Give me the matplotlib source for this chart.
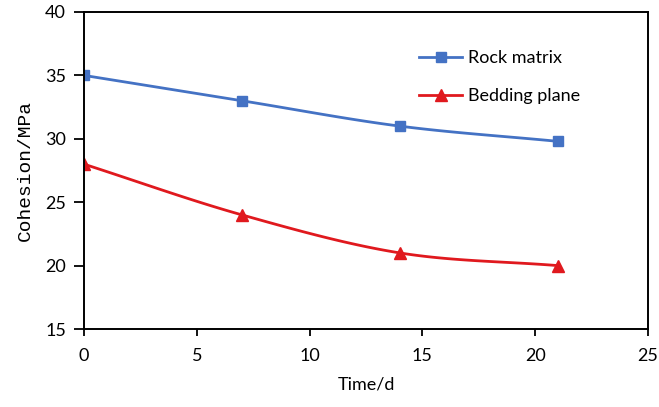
import numpy as np
import matplotlib
matplotlib.use("Agg")
import matplotlib.pyplot as plt
from matplotlib.lines import Line2D

time_d = [0, 7, 14, 21]
rock_matrix = [35, 33, 31, 29.8]
bedding_plane = [28, 24, 21, 20]
series_names = ["Rock matrix", "Bedding plane"]

def smooth(x, y, n=40, t=0.5):
    x = np.asarray(x, float); y = np.asarray(y, float)
    P = np.column_stack([x, y])
    P = np.vstack([P[0] - (P[1] - P[0]), P, P[-1] + (P[-1] - P[-2])])
    out = []
    for i in range(1, len(P) - 2):
        p0, p1, p2, p3 = P[i-1], P[i], P[i+1], P[i+2]
        c1 = p1 + (p2 - p0) * t / 3
        c2 = p2 - (p3 - p1) * t / 3
        s = np.linspace(0, 1, n)[:, None]
        seg = (1-s)**3*p1 + 3*(1-s)**2*s*c1 + 3*(1-s)*s**2*c2 + s**3*p2
        out.append(seg if i == 1 else seg[1:])
    o = np.vstack(out)
    return o[:, 0], o[:, 1]

plt.rcParams['font.family'] = ['Lato', 'DejaVu Sans']
fig = plt.figure(figsize=(6.59, 4.07), dpi=100)
ax = fig.add_axes([84/659, 1-329/407, (648-84)/659, (329-12)/407])

blue = '#4472C4'
red = '#E0191E'
sx, sy = smooth(time_d, rock_matrix)
ax.plot(sx, sy, color=blue, lw=2)
ax.plot(time_d, rock_matrix, ls='none', marker='s', ms=7, color=blue)
sx, sy = smooth(time_d, bedding_plane)
ax.plot(sx, sy, color=red, lw=2)
ax.plot(time_d, bedding_plane, ls='none', marker='^', ms=8, color=red)

handles = [Line2D([], [], color=blue, lw=2, marker='s', ms=7),
           Line2D([], [], color=red, lw=2, marker='^', ms=8)]
ax.legend(handles, series_names, frameon=False, loc='upper left',
          bbox_to_anchor=(0.565, 0.93), fontsize=13, handlelength=2.4,
          handletextpad=0.3, labelspacing=1.2)

ax.set_xlim(0, 25)
ax.set_ylim(15, 40)
ax.set_xticks(np.arange(0, 26, 5))
ax.set_yticks(np.arange(15, 41, 5))
ax.tick_params(axis='y', labelsize=13, direction='out', length=7, width=1.3, colors='black', pad=6)
ax.tick_params(axis='x', labelsize=13, direction='out', length=5, width=1.3, colors='black', pad=9)
for s in ax.spines.values():
    s.set_linewidth(1.4)
ax.set_xlabel("Time/d", fontsize=13, labelpad=9)
ax.set_ylabel("Cohesion/MPa", fontsize=14, family=['Liberation Mono', 'DejaVu Sans Mono'], labelpad=8)
fig.savefig("out.png", dpi=100)
